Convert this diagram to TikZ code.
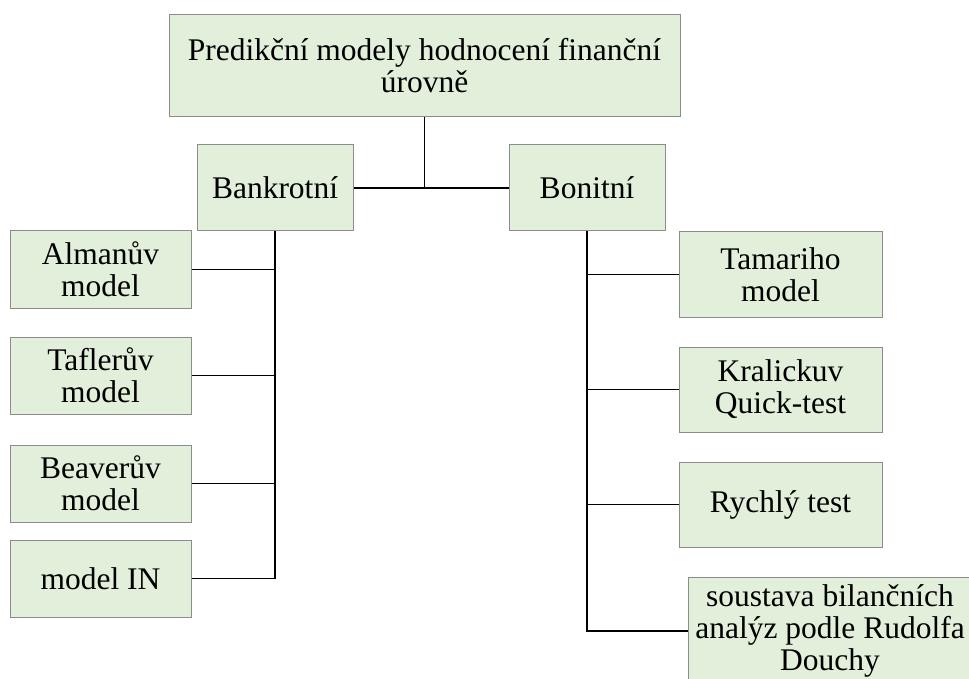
\documentclass[tikz,border=0pt]{standalone}
\usepackage{fontspec}
\setmainfont{Liberation Serif}
\usetikzlibrary{positioning}
\definecolor{boxFill}{HTML}{E2EFDA}
\definecolor{boxLine}{HTML}{8C8C8C}
\tikzset{modelBox/.style={
    draw=boxLine,
    fill=boxFill,
    line width=1pt,
    rectangle,
    align=center,
    inner sep=0pt,
    font=\fontsize{31.5}{32}\selectfont},
  linkStyle/.style={
    draw=black,
    line width=1.2pt}
}

\begin{document}
\begin{tikzpicture}[x=1pt,y=-1pt]
      \useasboundingbox (0,0) rectangle (969,679);
      \clip (0,0) rectangle (969,679);

      % top level
      \node[modelBox, minimum width=511, minimum height=102]
      (top) at (424.5,66) {Predikční modely hodnocení finanční\\úrovně};

      \node[modelBox, minimum width=156, minimum height=86]
      (bank) at (275,188) {Bankrotní};
      \node[modelBox, minimum width=156, minimum height=86]
      (bon) at (587,188) {Bonitní};

      % bankrotni models
      \node[modelBox, minimum width=181, minimum height=77]
      (alman) at (100.5,269.5) {Almanův\\model};
      \node[modelBox, minimum width=181, minimum height=77]
      (tafler) at (100.5,375.5) {Taflerův\\model};
      \node[modelBox, minimum width=181, minimum height=77]
      (beaver) at (100.5,483.5) {Beaverův\\model};
      \node[modelBox, minimum width=181, minimum height=77]
      (modelin) at (100.5,578.5) {model IN};

      % bonitni models
      \node[modelBox, minimum width=203, minimum height=85]
      (tamari) at (780.5,274.5) {Tamariho\\model};
      \node[modelBox, minimum width=203, minimum height=85]
      (kralicek) at (780.5,389.5) {Kralickuv\\Quick-test};
      \node[modelBox, minimum width=203, minimum height=85]
      (rychly) at (780.5,504.5) {Rychlý test};
      \node[modelBox, minimum width=284, minimum height=108]
      (douchy) at (830,631) {soustava bilančních\\analýz podle Rudolfa\\Douchy};

      % links
      \draw[linkStyle] (bank.east) -- (bon.west);
      \draw[linkStyle] (top.south) -- (top.south |- bank.east);

      \draw[linkStyle] (bank.south) |- (alman.east);
      \draw[linkStyle] (bank.south) |- (tafler.east);
      \draw[linkStyle] (bank.south) |- (beaver.east);
      \draw[linkStyle] (bank.south) |- (modelin.east);

      \draw[linkStyle] (bon.south) |- (tamari.west);
      \draw[linkStyle] (bon.south) |- (kralicek.west);
      \draw[linkStyle] (bon.south) |- (rychly.west);
      \draw[linkStyle] (bon.south) |- (douchy.west);
\end{tikzpicture}
\end{document}
